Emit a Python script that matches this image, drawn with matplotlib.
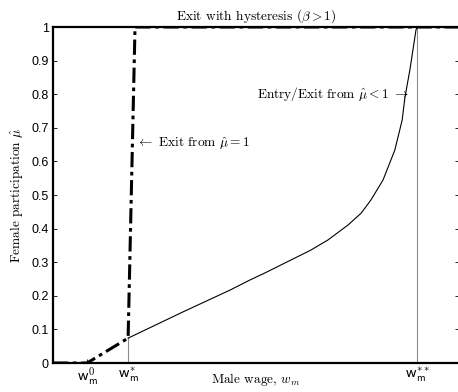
import matplotlib
matplotlib.use("Agg")
import matplotlib.pyplot as plt

plt.rcParams['mathtext.fontset'] = 'cm'

# Data (wage axis normalised so the plotted range is 0..1)
w0 = 0.084
w_star = 0.185
w_2star = 0.897
exit_x = [0.0, w0, w_star, 0.202, 1.0]
exit_y = [0.0, 0.0, 0.074, 1.0, 1.0]
entry_x = [0.185, 0.320, 0.436, 0.485, 0.522, 0.635, 0.677, 0.727, 0.759,
           0.783, 0.813, 0.842, 0.860, 0.867, 0.879, 0.894, 0.897]
entry_y = [0.074, 0.152, 0.217, 0.247, 0.268, 0.336, 0.366, 0.411, 0.446,
           0.485, 0.545, 0.634, 0.723, 0.792, 0.872, 0.991, 1.0]
y_ticks = [0, 0.1, 0.2, 0.3, 0.4, 0.5, 0.6, 0.7, 0.8, 0.9, 1]
y_ticklabels = ['0', '0.1', '0.2', '0.3', '0.4', '0.5', '0.6', '0.7', '0.8', '0.9', '1']
x_ticks = [w0, w_star, w_2star]
x_ticklabels = [r'$\mathsf{w}_\mathsf{m}^\mathsf{0}$',
                r'$\mathsf{w}_\mathsf{m}^{*}$',
                r'$\mathsf{w}_\mathsf{m}^{**}$']

fig = plt.figure(figsize=(4.58, 3.92), dpi=100)
ax = fig.add_axes([53/458, 29/392, 406/458, 336/392])

ax.plot([w_star, w_star], [0, entry_y[0]], color='0.55', lw=0.8)
ax.plot([w_2star, w_2star], [0, 1], color='0.55', lw=0.8)
ax.plot(entry_x, entry_y, color='black', lw=0.8)
ax.plot(exit_x, exit_y, color='black', lw=2.2, ls='-.', dashes=(5, 1.5, 1.2, 1.5))

ax.set_xlim(0, 1)
ax.set_ylim(0, 1)
ax.set_yticks(y_ticks)
ax.set_yticklabels(y_ticklabels, family='Liberation Sans', fontsize=9)
ax.set_xticks(x_ticks)
ax.set_xticklabels(x_ticklabels, fontsize=11)
ax.tick_params(direction='in', length=3, width=0.6, right=True, top=False, pad=3)
ax.tick_params(axis='x', pad=2)
for s in ax.spines.values():
    s.set_linewidth(1.6)
ax.spines['right'].set_visible(False)

ax.set_title(r'Exit with hysteresis ($\beta > 1$)', family='cmr10', fontsize=9.6, pad=5)
ax.set_xlabel(r'Male wage, $w_m$', family='cmr10', fontsize=9.6)
ax.xaxis.set_label_coords(0.5, -0.025)
ax.set_ylabel(r'Female participation $\hat{\mu}$', family='cmr10', fontsize=9.6, labelpad=5)

ax.text(0.205, 0.652, r'$\leftarrow$ Exit from $\hat{\mu} = 1$', family='cmr10',
        fontsize=9.6, ha='left', va='center')
ax.text(0.878, 0.800, r'Entry/Exit from $\hat{\mu} < 1$ $\rightarrow$', family='cmr10',
        fontsize=9.6, ha='right', va='center')

fig.savefig('out.png', dpi=100)
